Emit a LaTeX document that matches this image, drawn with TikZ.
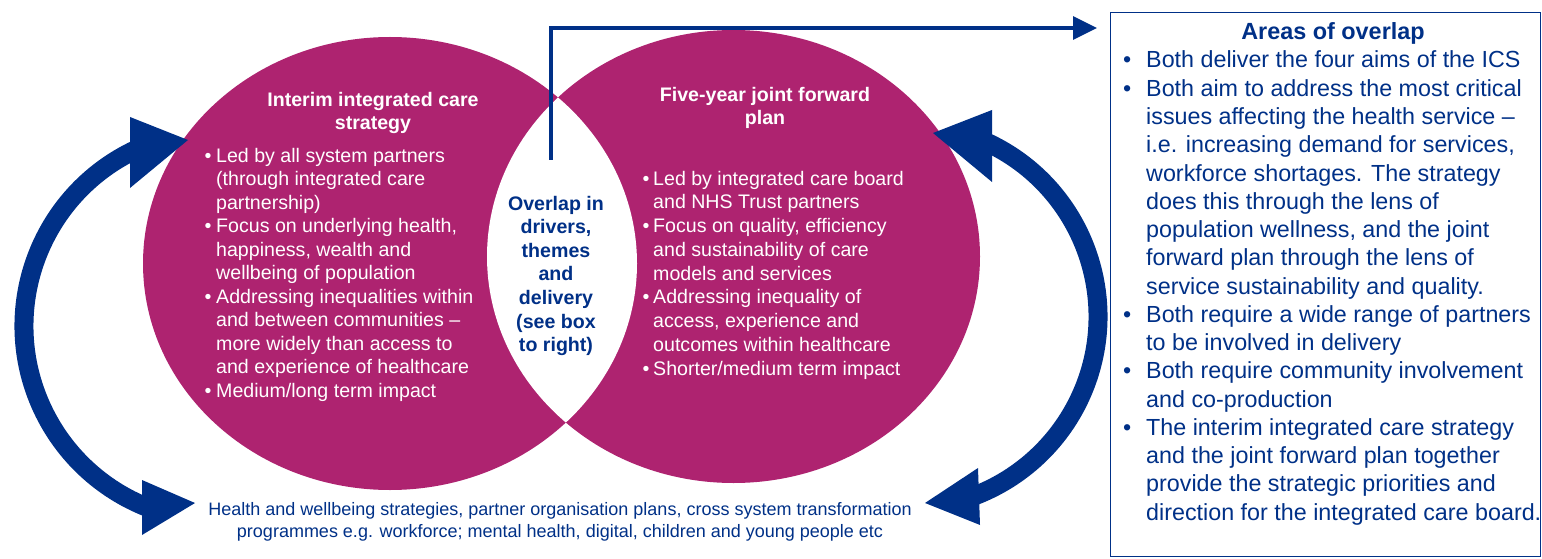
\documentclass[tikz,border=0pt]{standalone}
\usepackage{fontspec}
\setmainfont{Liberation Sans}
\usetikzlibrary{arrows.meta}
\definecolor{plum}{RGB}{174,35,112}
\definecolor{navy}{RGB}{0,48,135}
\tikzset{
  lobe/.style={fill=plum},
  band/.style={draw=navy, line width=19pt},
  head/.style={fill=navy},
  txt/.style={inner sep=0pt, anchor=base west},
  ctxt/.style={inner sep=0pt, anchor=base},
  circbody/.style={txt, text=white, font=\fontsize{19.6}{23.6}\selectfont},
  circtitle/.style={ctxt, text=white, font=\bfseries\fontsize{19.6}{23.6}\selectfont},
  lenstext/.style={ctxt, text=navy, font=\bfseries\fontsize{19.6}{23.6}\selectfont},
  foot/.style={ctxt, text=navy, font=\fontsize{18}{22}\selectfont},
  boxbody/.style={txt, text=navy, font=\fontsize{23.3}{28.25}\selectfont},
  boxtitle/.style={ctxt, text=navy, font=\bfseries\fontsize{23.4}{28.25}\selectfont},
  panel/.style={draw=navy, line width=1.5pt, inner sep=0pt, minimum width=430pt, minimum height=544pt},
  link/.style={draw=navy, line width=3.5pt, -{Triangle[length=24pt,width=23pt]}}
}
\begin{document}
\begin{tikzpicture}[x=1pt,y=-1pt]
\useasboundingbox (0,0) rectangle (1542,559);

% the two overlapping lobes and the white lens between them
\fill[lobe] (390,263.5) ellipse[x radius=247, y radius=226.5];
\fill[lobe] (733.5,256.5) ellipse[x radius=246.5, y radius=226.5];
\begin{scope}
  \clip (390,263.5) ellipse[x radius=247, y radius=226.5];
  \fill[white] (733.5,256.5) ellipse[x radius=246.5, y radius=226.5];
\end{scope}

% curved double arrows on both sides
\coordinate (lc) at (219,326);
\coordinate (rc) at (906,316.5);
\path (lc) ++(245:195) coordinate (lstart);
\draw[band] (lstart) arc[start angle=245, end angle=111.5, radius=195];
\path (rc) ++(-65:192) coordinate (rstart);
\draw[band] (rstart) arc[start angle=-65, end angle=69, radius=192];
\fill[head] (130,117) -- (188,140) -- (130,188) -- cycle;
\fill[head] (142,480) -- (195,503) -- (142,535) -- cycle;
\fill[head] (992,110) -- (933,133) -- (992,182) -- cycle;
\fill[head] (978,468) -- (925,503) -- (980,525) -- cycle;

% panel on the right
\node[panel] (box) at (1325.5,284.5) {};
\coordinate (lenstop) at (551,160);
\coordinate (boxin) at (1097,28);
\draw[link] (lenstop) |- (boxin);

% lobe titles
\node[circtitle] (lt1) at (373,107) {Interim integrated care};
\node[circtitle] (lt2) at (373,130) {strategy};
\node[circtitle] (rt1) at (765,102) {Five-year joint forward};
\node[circtitle] (rt2) at (765,125) {plan};

% left lobe bullets
\foreach \t [count=\i] in {
  {Led by all system partners},
  {(through integrated care},
  {partnership)},
  {Focus on underlying health,},
  {happiness, wealth and},
  {wellbeing of population},
  {Addressing inequalities within},
  {and between communities –},
  {more widely than access to},
  {and experience of healthcare},
  {Medium/long term impact}}
  \node[circbody] (l\i) at (216,{162+23.5*(\i-1)}) {\t};
\foreach \i in {1,4,7,11}
  \node[circbody] (lb\i) at (204.5,{162+23.5*(\i-1)}) {\textbullet};

% right lobe bullets
\foreach \t [count=\i] in {
  {Led by integrated care board},
  {and NHS Trust partners},
  {Focus on quality, efficiency},
  {and sustainability of care},
  {models and services},
  {Addressing inequality of},
  {access, experience and},
  {outcomes within healthcare},
  {Shorter/medium term impact}}
  \node[circbody] (r\i) at (653,{185+23.75*(\i-1)}) {\t};
\foreach \i in {1,3,6,9}
  \node[circbody] (rb\i) at (642.5,{185+23.75*(\i-1)}) {\textbullet};

% lens text
\foreach \t [count=\i] in {
  {Overlap in}, {drivers,}, {themes}, {and}, {delivery}, {(see box}, {to right)}}
  \node[lenstext] (m\i) at (556,{210+23.6*(\i-1)}) {\t};

% footer
\node[foot] (f1) at (560,515) {Health and wellbeing strategies, partner organisation plans, cross system transformation};
\node[foot] (f2) at (560,537) {programmes e.g. workforce; mental health, digital, children and young people etc};

% panel contents
\node[boxtitle] (bt) at (1333,40) {Areas of overlap};
\foreach \t [count=\i] in {
  {Both deliver the four aims of the ICS},
  {Both aim to address the most critical},
  {issues affecting the health service –},
  {i.e. increasing demand for services,},
  {workforce shortages. The strategy},
  {does this through the lens of},
  {population wellness, and the joint},
  {forward plan through the lens of},
  {service sustainability and quality.},
  {Both require a wide range of partners},
  {to be involved in delivery},
  {Both require community involvement},
  {and co-production},
  {The interim integrated care strategy},
  {and the joint forward plan together},
  {provide the strategic priorities and},
  {direction for the integrated care board.}}
  \node[boxbody] (b\i) at (1146,{68+28.25*(\i-1)}) {\t};
\foreach \i in {1,2,10,12,14}
  \node[boxbody] (bb\i) at (1123,{68+28.25*(\i-1)}) {\textbullet};
\end{tikzpicture}
\end{document}
